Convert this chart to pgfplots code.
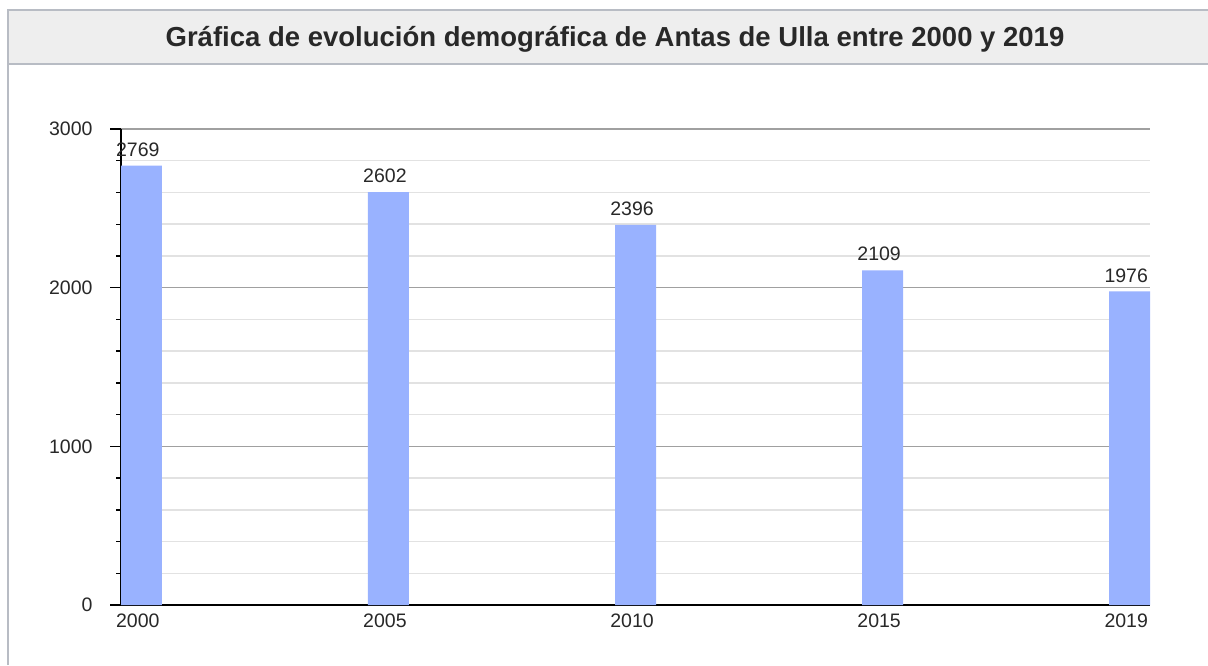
\documentclass[border=0pt]{standalone}
\usepackage{pgfplots}
\pgfplotsset{compat=1.18}
\usepackage{fontspec}
\setmainfont{Liberation Sans}
\definecolor{barblue}{RGB}{153,178,255}
\definecolor{framegray}{RGB}{184,188,196}
\definecolor{bandgray}{RGB}{238,238,238}
\definecolor{majgrid}{RGB}{160,160,160}
\definecolor{mingrid}{RGB}{226,226,226}
\definecolor{txt}{RGB}{40,40,40}
\begin{document}
\begin{tikzpicture}
\useasboundingbox (0,0) rectangle (1208pt,665pt);
\fill[white] (0,0) rectangle (1208pt,665pt);
\fill[bandgray] (8pt,601pt) rectangle (1208pt,655pt);
\draw[framegray,line width=1.8pt] (8pt,0pt) -- (8pt,655pt) -- (1208pt,655pt);
\draw[framegray,line width=1.8pt] (8pt,601pt) -- (1208pt,601pt);
\node[text=txt,font=\fontsize{27.5}{32}\selectfont\bfseries,anchor=base,inner sep=0pt] at (615pt,618pt) {Gráfica de evolución demográfica de Antas de Ulla entre 2000 y 2019};
\begin{axis}[
  at={(121pt,60pt)}, anchor=south west,
  width=1029pt, height=476pt, scale only axis,
  xmin=-0.0822, xmax=4.0822,
  ymin=0, ymax=3000,
  axis x line=bottom, axis y line=left,
  axis line style={-, black, line width=1.6pt},
  xtick={0,1,2,3,4},
  xticklabels={2000,2005,2010,2015,2019},
  xtick style={draw=none},
  ytick={0,1000,2000,3000},
  minor y tick num=4,
  tick align=outside,
  major tick length=11pt, minor tick length=5pt,
  ytick style={black, line width=1.4pt},
  minor y tick style={black, line width=1.4pt},
  ymajorgrids, yminorgrids,
  major grid style={majgrid, line width=1.5pt},
  minor grid style={mingrid, line width=1.5pt},
  /pgf/number format/1000 sep={},
  /pgf/number format/assume math mode=true,
  scaled y ticks=false,
  ticklabel style={font=\fontsize{19.5}{23}\selectfont, text=txt},
  xticklabel style={xshift=-3.5pt, yshift=6pt},
  yticklabel style={xshift=-14pt},
]
\addplot[ybar, bar width=41pt, fill=barblue, draw=none,
  nodes near coords,
  every node near coord/.style={font=\fontsize{19.5}{23}\selectfont, text=txt, inner sep=0pt, anchor=south, yshift=9pt, xshift=-3.5pt},
] coordinates {(0,2769) (1,2602) (2,2396) (3,2109) (4,1976)};
\end{axis}
\end{tikzpicture}
\end{document}
